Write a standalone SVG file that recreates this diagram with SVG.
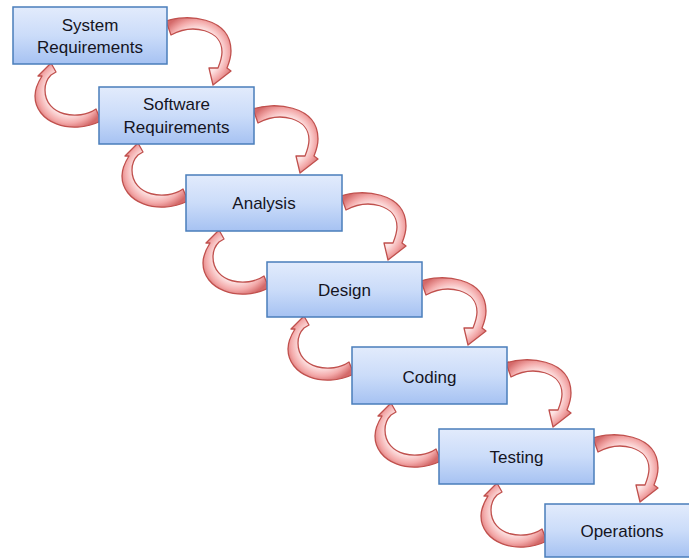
<svg xmlns="http://www.w3.org/2000/svg" xmlns:xlink="http://www.w3.org/1999/xlink" width="689" height="559" viewBox="0 0 689 559">
  <style>
    .box { fill: url(#boxFill); stroke: #4a7ebb; stroke-width: 1.5; }
    .lbl { font-family: "Liberation Sans", Arial, sans-serif; font-size: 17px; fill: #15151f; text-anchor: middle; }
    .fwd { fill: url(#fwdFill); stroke: #c0504d; stroke-width: 1.3; stroke-linejoin: round; }
    .back { fill: url(#backFill); stroke: #c0504d; stroke-width: 1.3; stroke-linejoin: round; }
  </style>
  <defs>
    <linearGradient id="boxFill" x1="0" y1="0" x2="0" y2="1">
      <stop offset="0" stop-color="#e2ebfc"/>
      <stop offset="0.5" stop-color="#cbdcf9"/>
      <stop offset="1" stop-color="#a6c2f2"/>
    </linearGradient>
    <radialGradient id="fwdFill" gradientUnits="userSpaceOnUse" cx="30" cy="45" r="40">
      <stop offset="0.6" stop-color="#fde4e4"/>
      <stop offset="0.8" stop-color="#f3a9a9"/>
      <stop offset="1" stop-color="#d46a6a"/>
    </radialGradient>
    <radialGradient id="backFill" gradientUnits="userSpaceOnUse" cx="-30" cy="5" r="38">
      <stop offset="0.6" stop-color="#fde4e4"/>
      <stop offset="0.82" stop-color="#f3a9a9"/>
      <stop offset="1" stop-color="#d46a6a"/>
    </radialGradient>
    <!-- curved arrow leaving a box's right side and landing on the next box's top (origin = box top-right corner) -->
    <path id="fwdArrow" class="fwd" d="M -1 13 C 18 6, 64 8, 64 43 C 64 50, 62 55, 60 60 L 64 63 L 46 77 L 42 60 L 51 60 C 53 55, 55 50, 55 44 C 55 22, 26 15, 4 27 Z"/>
    <!-- curved arrow leaving a box's left side and returning up to the previous box's bottom (origin = box left edge) -->
    <path id="backArrow" class="back" d="M -3 22 C -20 34, -54 29, -54 3 C -54 -3, -52 -8, -48 -12 L -43 -15 L -48 -24 L -61 -11 L -57 -11 C -62 -3, -64 3, -64 9 C -64 35, -29 49, 2 34 Z"/>
  </defs>

  <g id="connectors">
    <use xlink:href="#fwdArrow" transform="translate(167,8)"/>
    <use xlink:href="#fwdArrow" transform="translate(254,96)"/>
    <use xlink:href="#fwdArrow" transform="translate(342,183)"/>
    <use xlink:href="#fwdArrow" transform="translate(422,268)"/>
    <use xlink:href="#fwdArrow" transform="translate(507,350)"/>
    <use xlink:href="#fwdArrow" transform="translate(594,425)"/>

    <use xlink:href="#backArrow" transform="translate(99,87)"/>
    <use xlink:href="#backArrow" transform="translate(186,167)"/>
    <use xlink:href="#backArrow" transform="translate(267,254)"/>
    <use xlink:href="#backArrow" transform="translate(352,340)"/>
    <use xlink:href="#backArrow" transform="translate(439,427)"/>
    <use xlink:href="#backArrow" transform="translate(545,507)"/>
  </g>

  <g id="system-requirements">
    <rect class="box" x="13" y="7" width="154" height="57"/>
    <text class="lbl" x="90" y="31">System</text>
    <text class="lbl" x="90" y="53">Requirements</text>
  </g>
  <g id="software-requirements">
    <rect class="box" x="99" y="87" width="155" height="57"/>
    <text class="lbl" x="176.5" y="110">Software</text>
    <text class="lbl" x="176.5" y="133">Requirements</text>
  </g>
  <g id="analysis">
    <rect class="box" x="186" y="175" width="156" height="56"/>
    <text class="lbl" x="264" y="209">Analysis</text>
  </g>
  <g id="design">
    <rect class="box" x="267" y="262" width="155" height="55"/>
    <text class="lbl" x="344.5" y="296">Design</text>
  </g>
  <g id="coding">
    <rect class="box" x="352" y="347" width="155" height="57"/>
    <text class="lbl" x="429.5" y="383">Coding</text>
  </g>
  <g id="testing">
    <rect class="box" x="439" y="429" width="155" height="55"/>
    <text class="lbl" x="516.5" y="463">Testing</text>
  </g>
  <g id="operations">
    <rect class="box" x="545" y="504" width="155" height="53"/>
    <text class="lbl" x="622" y="537">Operations</text>
  </g>
</svg>
